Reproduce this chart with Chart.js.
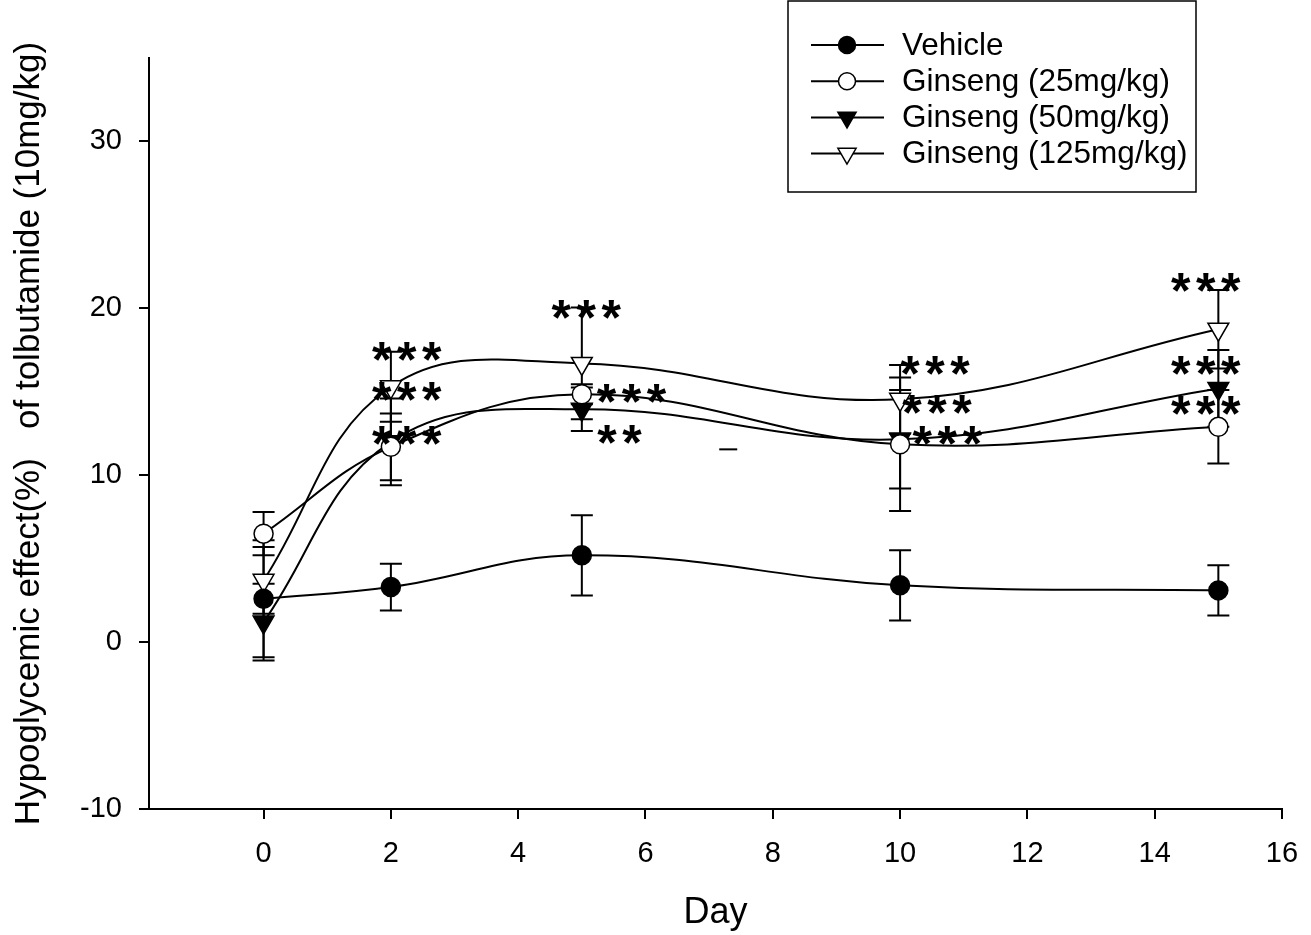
<!DOCTYPE html>
<html>
<head>
<meta charset="utf-8">
<title>Hypoglycemic effect of tolbutamide</title>
<script src="https://cdn.jsdelivr.net/npm/chart.js@4.4.1/dist/chart.umd.min.js"></script>
<style>
  html, body { margin: 0; padding: 0; background: #fff; }
  canvas { display: block; }
</style>
</head>
<body>
<canvas id="effectChart" width="1311" height="935"></canvas>
<script>
const FONT = '"Liberation Sans", Arial, sans-serif';

// sampling days and group means / SEM
const days = [0, 2, 5, 10, 15];
const seriesNames = ['Vehicle', 'Ginseng (25mg/kg)', 'Ginseng (50mg/kg)', 'Ginseng (125mg/kg)'];
const vehicle    = [2.6, 3.3, 5.2, 3.4, 3.1];
const vehicleErr = [3.5, 1.4, 2.4, 2.1, 1.5];
const g25        = [6.5, 11.7, 14.85, 11.85, 12.9];
const g25Err     = [1.3, 2.0, 0.6, 4.0, 2.2];
const g50        = [1.2, 12.0, 13.95, 12.15, 15.2];
const g50Err     = [2.3, 2.6, 1.3, 2.95, 2.3];
const g125       = [3.7, 15.3, 16.7, 14.55, 18.75];
const g125Err    = [2.0, 2.1, 3.35, 2.05, 2.35];

const xTicks = [0, 2, 4, 6, 8, 10, 12, 14, 16];
const yTicks = [-10, 0, 10, 20, 30];

// significance marks (text, day, value at glyph centre)
const starText  = ['***', '***', '***', '***', '***', '**', '***', '***', '***', '***', '***', '***'];
const starDay   = [2.25, 2.25, 2.25, 5.07, 5.78, 5.59, 10.55, 10.58, 10.74, 14.8, 14.8, 14.8];
const starValue = [17.4, 15.0, 12.4, 19.95, 14.9, 12.45, 16.6, 14.25, 12.4, 21.55, 16.6, 14.2];

// lone error cap left in the plot
const looseCapDay = [7.3];
const looseCapValue = [11.55];

function points(values) {
  return values.map((v, i) => ({ x: days[i], y: v }));
}

const errorBars = {
  id: 'errorBars',
  beforeDatasetsDraw(chart) {
    const { ctx, scales: { x, y } } = chart;
    const cap = 11;
    ctx.save();
    ctx.strokeStyle = '#000';
    ctx.lineWidth = 2;
    chart.data.datasets.forEach(ds => {
      ds.errors.forEach((e, i) => {
        const v = ds.data[i].y;
        const px = x.getPixelForValue(ds.data[i].x);
        const hi = y.getPixelForValue(v + e);
        const lo = y.getPixelForValue(v - e);
        ctx.beginPath();
        ctx.moveTo(px, hi); ctx.lineTo(px, lo);
        ctx.moveTo(px - cap, hi); ctx.lineTo(px + cap, hi);
        ctx.moveTo(px - cap, lo); ctx.lineTo(px + cap, lo);
        ctx.stroke();
      });
    });
    looseCapDay.forEach((d, i) => {
      const px = x.getPixelForValue(d);
      const py = y.getPixelForValue(looseCapValue[i]);
      ctx.beginPath();
      ctx.moveTo(px - 9, py); ctx.lineTo(px + 9, py);
      ctx.stroke();
    });
    ctx.restore();
  }
};

const starMarks = {
  id: 'starMarks',
  afterDatasetsDraw(chart) {
    const { ctx, scales: { x, y } } = chart;
    const gap = 25;
    ctx.save();
    ctx.fillStyle = '#000';
    ctx.font = 'bold 50px ' + FONT;
    ctx.textAlign = 'center';
    ctx.textBaseline = 'alphabetic';
    const m = ctx.measureText('*');
    const shift = (m.actualBoundingBoxAscent - m.actualBoundingBoxDescent) / 2;
    starText.forEach((t, i) => {
      const cx = x.getPixelForValue(starDay[i]);
      const cy = y.getPixelForValue(starValue[i]);
      const start = cx - (t.length - 1) * gap / 2;
      for (let k = 0; k < t.length; k++) {
        ctx.fillText('*', start + k * gap, cy + shift);
      }
    });
    ctx.restore();
  }
};

const boxLegend = {
  id: 'boxLegend',
  afterDraw(chart) {
    const ctx = chart.ctx;
    const left = 788, top = 1, right = 1196, bottom = 192;
    ctx.save();
    ctx.strokeStyle = '#000';
    ctx.lineWidth = 1.5;
    ctx.strokeRect(left, top, right - left, bottom - top);
    ctx.font = '31.5px ' + FONT;
    ctx.textBaseline = 'middle';
    ctx.textAlign = 'left';
    chart.data.datasets.forEach((ds, i) => {
      const yy = 45 + i * 36.2;
      ctx.strokeStyle = '#000';
      ctx.lineWidth = 2;
      ctx.beginPath();
      ctx.moveTo(811, yy); ctx.lineTo(884, yy);
      ctx.stroke();
      ctx.fillStyle = ds.pointBackgroundColor;
      ctx.lineWidth = 1.5;
      Chart.helpers.drawPoint(ctx, {
        pointStyle: ds.pointStyle,
        radius: ds.pointStyle === 'triangle' ? 10.5 : 8.5,
        rotation: ds.pointRotation || 0,
        borderWidth: 1.5
      }, 847, yy);
      ctx.fillStyle = '#000';
      ctx.fillText(ds.label, 902, yy + 1);
    });
    ctx.restore();
  }
};

function series(label, values, errors, style, fill) {
  return {
    label: label,
    data: points(values),
    errors: errors,
    borderColor: '#000',
    borderWidth: 2,
    tension: 0.4,
    pointStyle: style,
    pointRotation: style === 'triangle' ? 180 : 0,
    pointRadius: style === 'triangle' ? 12 : 9.5,
    pointBackgroundColor: fill,
    pointBorderColor: '#000',
    pointBorderWidth: 1.5
  };
}

const ctx = document.getElementById('effectChart').getContext('2d');
window.effectChart = new Chart(ctx, {
  type: 'line',
  data: {
    datasets: [
      series(seriesNames[0], vehicle, vehicleErr, 'circle', '#000'),
      series(seriesNames[1], g25, g25Err, 'circle', '#fff'),
      series(seriesNames[2], g50, g50Err, 'triangle', '#000'),
      series(seriesNames[3], g125, g125Err, 'triangle', '#fff')
    ]
  },
  options: {
    responsive: false,
    animation: false,
    layout: { padding: { top: 58, right: 29, left: 0, bottom: 0 } },
    plugins: {
      legend: { display: false },
      tooltip: { enabled: false }
    },
    scales: {
      x: {
        type: 'linear',
        min: -1.8,
        max: 16,
        afterFit(scale) {
          scale.height = 126;
          scale.paddingLeft = 0;
          scale.paddingRight = 0;
        },
        afterBuildTicks(scale) { scale.ticks = xTicks.map(v => ({ value: v })); },
        grid: { drawOnChartArea: false, color: '#000', lineWidth: 2, tickLength: 10 },
        border: { color: '#000', width: 2 },
        ticks: { color: '#000', font: { family: FONT, size: 29 }, padding: 18, maxRotation: 0 },
        title: { display: true, text: 'Day', color: '#000', font: { family: FONT, size: 36 }, padding: { top: 0, bottom: 0 } }
      },
      y: {
        min: -10,
        max: 35,
        afterFit(scale) {
          scale.width = 149;
          scale.paddingTop = 0;
          scale.paddingBottom = 0;
        },
        afterBuildTicks(scale) { scale.ticks = yTicks.map(v => ({ value: v })); },
        grid: { drawOnChartArea: false, color: '#000', lineWidth: 2, tickLength: 10 },
        border: { color: '#000', width: 2 },
        ticks: { color: '#000', font: { family: FONT, size: 29 }, padding: 17 },
        title: { display: true, text: 'Hypoglycemic effect(%)   of tolbutamide (10mg/kg)', color: '#000', font: { family: FONT, size: 35 }, padding: { top: 8, bottom: 0 } }
      }
    }
  },
  plugins: [errorBars, starMarks, boxLegend]
});
</script>
</body>
</html>
